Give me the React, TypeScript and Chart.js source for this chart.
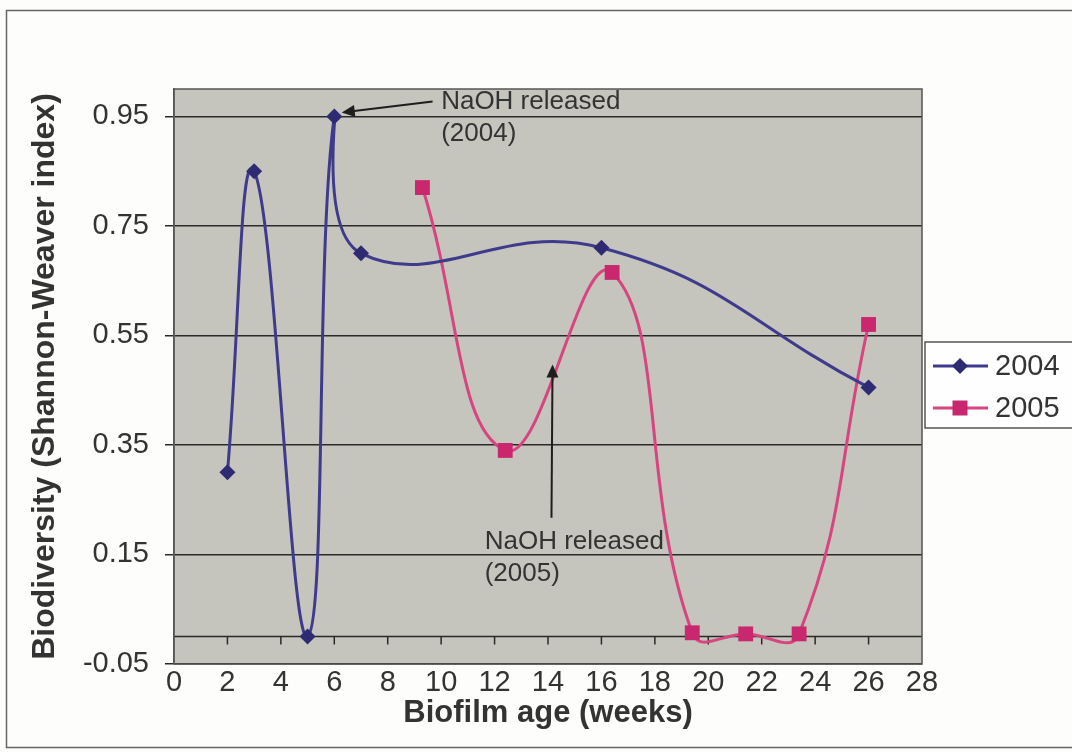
import React, { useEffect, useRef } from 'react';
import { Chart, registerables } from 'chart.js';

Chart.register(...registerables);

// ---- data ----
const weeks2004 = [2, 3, 5, 6, 7, 16, 26];
const bio2004 = [0.30, 0.85, 0.0, 0.95, 0.70, 0.71, 0.455];
const weeks2005 = [9.3, 12.4, 16.4, 19.4, 21.4, 23.4, 26];
const bio2005 = [0.82, 0.34, 0.665, 0.007, 0.005, 0.005, 0.57];
const seriesLabels = ['2004', '2005'];
const yTickValues = [-0.05, 0.15, 0.35, 0.55, 0.75, 0.95];
const xMin = 0;
const xMax = 28;
const xStep = 2;
const yMin = -0.05;
const yMax = 1.0;
const xTitle = 'Biofilm age (weeks)';
const yTitle = 'Biodiversity (Shannon-Weaver index)';
const annotationLines = [
  ['NaOH released', '(2004)'],
  ['NaOH released', '(2005)'],
];
// text anchor (x, y) and arrow tail -> tip, in data units
const annotationText = [
  [10.0, 0.976],
  [11.63, 0.173],
];
const annotationArrowFrom = [
  [9.68, 0.977],
  [14.13, 0.217],
];
const annotationArrowTo = [
  [6.28, 0.957],
  [14.17, 0.497],
];

// ---- styles ----
const FONT = "'Liberation Sans', Arial, Helvetica, sans-serif";
const TEXT = '#333333';
const C2004 = '#3f3b8c';
const C2004M = '#2f2b72';
const C2005 = '#d8447f';
const C2005M = '#c9286f';
const PLOT_BG = '#c5c4bd';
const GRID = '#2a2a2a';

const decorPlugin = {
  id: 'decor',
  beforeDraw(chart: any) {
    const { ctx, chartArea: a, width, height } = chart;
    ctx.save();
    ctx.fillStyle = '#fdfdfb';
    ctx.fillRect(0, 0, width, height);
    ctx.strokeStyle = '#666';
    ctx.lineWidth = 1.5;
    ctx.strokeRect(6.5, 10.5, width + 10, height - 15);
    ctx.fillStyle = PLOT_BG;
    ctx.fillRect(a.left, a.top, a.right - a.left, a.bottom - a.top);
    ctx.restore();
  },
  beforeDatasetsDraw(chart: any) {
    const { ctx, chartArea: a, scales } = chart;
    const y0 = scales.y.getPixelForValue(0);
    ctx.save();
    ctx.strokeStyle = GRID;
    ctx.lineWidth = 1.5;
    ctx.beginPath();
    ctx.moveTo(a.left, y0);
    ctx.lineTo(a.right, y0);
    for (let v = xMin + xStep; v < xMax; v += xStep) {
      const px = scales.x.getPixelForValue(v);
      ctx.moveTo(px, y0);
      ctx.lineTo(px, y0 + 8);
    }
    ctx.stroke();
    ctx.restore();
  },
  afterDraw(chart: any) {
    const { ctx, chartArea: a, scales, width } = chart;
    ctx.save();
    // plot border
    ctx.strokeStyle = '#555';
    ctx.lineWidth = 1.5;
    ctx.strokeRect(a.left, a.top, a.right - a.left, a.bottom - a.top);

    // annotations
    ctx.font = `26px ${FONT}`;
    ctx.fillStyle = TEXT;
    ctx.textAlign = 'left';
    ctx.textBaseline = 'middle';
    annotationLines.forEach((lines, i) => {
      const tx = scales.x.getPixelForValue(annotationText[i][0]);
      const ty = scales.y.getPixelForValue(annotationText[i][1]);
      ctx.fillStyle = TEXT;
      lines.forEach((t, j) => ctx.fillText(t, tx, ty + j * 32));
      const fx = scales.x.getPixelForValue(annotationArrowFrom[i][0]);
      const fy = scales.y.getPixelForValue(annotationArrowFrom[i][1]);
      const tox = scales.x.getPixelForValue(annotationArrowTo[i][0]);
      const toy = scales.y.getPixelForValue(annotationArrowTo[i][1]);
      const ang = Math.atan2(toy - fy, tox - fx);
      const hl = 13;
      const hw = 6;
      ctx.strokeStyle = '#1e1e1e';
      ctx.lineWidth = 2;
      ctx.beginPath();
      ctx.moveTo(fx, fy);
      ctx.lineTo(tox - Math.cos(ang) * hl * 0.8, toy - Math.sin(ang) * hl * 0.8);
      ctx.stroke();
      ctx.fillStyle = '#1e1e1e';
      ctx.beginPath();
      ctx.moveTo(tox, toy);
      ctx.lineTo(tox - Math.cos(ang) * hl - Math.sin(ang) * hw, toy - Math.sin(ang) * hl + Math.cos(ang) * hw);
      ctx.lineTo(tox - Math.cos(ang) * hl + Math.sin(ang) * hw, toy - Math.sin(ang) * hl - Math.cos(ang) * hw);
      ctx.closePath();
      ctx.fill();
    });

    // legend
    const lx = a.right + 3;
    const ly = 342;
    ctx.fillStyle = '#fefefe';
    ctx.fillRect(lx, ly, width - lx + 5, 86);
    ctx.strokeStyle = '#555';
    ctx.lineWidth = 1.5;
    ctx.strokeRect(lx, ly, width - lx + 5, 86);
    const items = [
      { label: seriesLabels[0], line: C2004, mark: C2004M, style: 'diamond', y: ly + 24 },
      { label: seriesLabels[1], line: C2005, mark: C2005M, style: 'square', y: ly + 66 },
    ];
    items.forEach((it) => {
      ctx.strokeStyle = it.line;
      ctx.lineWidth = 3;
      ctx.beginPath();
      ctx.moveTo(lx + 8, it.y);
      ctx.lineTo(lx + 63, it.y);
      ctx.stroke();
      ctx.fillStyle = it.mark;
      const cx = lx + 35;
      ctx.beginPath();
      if (it.style === 'diamond') {
        ctx.moveTo(cx, it.y - 8);
        ctx.lineTo(cx + 8, it.y);
        ctx.lineTo(cx, it.y + 8);
        ctx.lineTo(cx - 8, it.y);
        ctx.closePath();
      } else {
        ctx.rect(cx - 7.5, it.y - 7.5, 15, 15);
      }
      ctx.fill();
      ctx.fillStyle = TEXT;
      ctx.font = `29px ${FONT}`;
      ctx.textAlign = 'left';
      ctx.textBaseline = 'middle';
      ctx.fillText(it.label, lx + 70, it.y + 1);
    });
    ctx.restore();
  },
};

export default function App() {
  const ref = useRef<HTMLCanvasElement>(null);
  useEffect(() => {
    if (!ref.current) return;
    const chart = new Chart(ref.current, {
      type: 'line',
      data: {
        datasets: [
          {
            label: seriesLabels[0],
            data: weeks2004.map((x, i) => ({ x, y: bio2004[i] })),
            borderColor: C2004,
            backgroundColor: C2004M,
            pointBackgroundColor: C2004M,
            pointBorderWidth: 0,
            pointStyle: 'rectRot',
            pointRadius: 8,
            borderWidth: 3,
            tension: 0.45,
          },
          {
            label: seriesLabels[1],
            data: weeks2005.map((x, i) => ({ x, y: bio2005[i] })),
            borderColor: C2005,
            backgroundColor: C2005M,
            pointBackgroundColor: C2005M,
            pointBorderWidth: 0,
            pointStyle: 'rect',
            pointRadius: 10.5,
            borderWidth: 3,
            tension: 0.45,
          },
        ],
      },
      options: {
        responsive: false,
        animation: false,
        devicePixelRatio: 1,
        layout: { padding: { left: 22, right: 150, top: 89, bottom: 16 } },
        plugins: { legend: { display: false }, tooltip: { enabled: false } },
        scales: {
          x: {
            type: 'linear',
            min: xMin,
            max: xMax,
            ticks: {
              stepSize: xStep,
              padding: 2,
              autoSkip: false,
              maxRotation: 0,
              color: TEXT,
              font: { family: FONT, size: 29 },
            },
            grid: { display: false, drawTicks: false, tickLength: 0 },
            border: { display: false },
            title: {
              display: true,
              text: xTitle,
              color: TEXT,
              font: { family: FONT, size: 31, weight: 'bold' },
              padding: { top: 4, bottom: 4 },
            },
            afterFit(s: any) {
              s.height = 72;
            },
          },
          y: {
            type: 'linear',
            min: yMin,
            max: yMax,
            afterBuildTicks(s: any) {
              s.ticks = yTickValues.map((v) => ({ value: v }));
            },
            ticks: {
              padding: 16,
              color: TEXT,
              font: { family: FONT, size: 29 },
              callback: (v: any) => Number(v).toFixed(2),
            },
            grid: { color: GRID, lineWidth: 1.5, tickLength: 9 },
            border: { display: true, color: '#555', width: 1.5 },
            title: {
              display: true,
              text: yTitle,
              color: TEXT,
              font: { family: FONT, size: 32, weight: 'bold' },
              padding: { top: 4, bottom: 4 },
            },
            afterFit(s: any) {
              s.width = 152;
            },
          },
        },
      },
      plugins: [decorPlugin],
    } as any);
    return () => chart.destroy();
  }, []);
  return (
    <div style={{ position: 'absolute', left: 0, top: 0, width: 1072, height: 752 }}>
      <canvas ref={ref} width={1072} height={752} style={{ display: 'block' }} />
    </div>
  );
}
